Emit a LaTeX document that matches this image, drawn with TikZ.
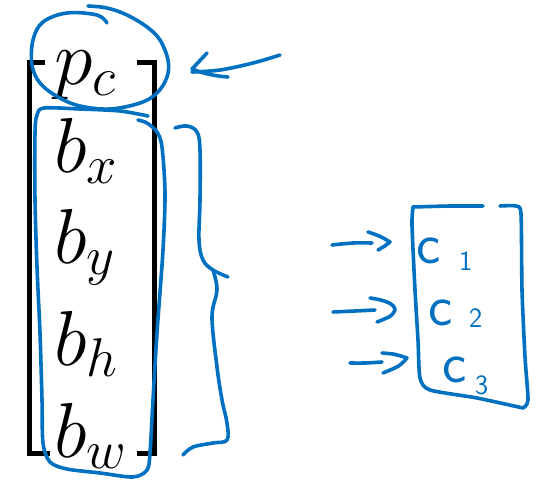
\RequirePackage{fix-cm}
\documentclass[tikz,border=0pt]{standalone}
\definecolor{inkblue}{HTML}{0070C0}
\begin{document}
\begin{tikzpicture}[x=1pt, y=-1pt,
  ink/.style={draw=inkblue, line width=3.6pt, line cap=round, line join=round},
  bracket/.style={draw=black, line width=5pt, line cap=butt, line join=miter},
  entry/.style={font=\fontsize{78}{84}\selectfont, inner sep=0pt, anchor=base west},
  clabel/.style={text=inkblue, font=\sffamily\fontsize{58}{58}\selectfont, inner sep=0pt, anchor=base west},
  cindex/.style={text=inkblue, font=\sffamily\fontsize{28}{28}\selectfont, inner sep=0pt, anchor=base west}]
\useasboundingbox (0,0) rectangle (536,482);

% vector entries
\node[entry] (pc) at (54,84)  {$p_c$};
\node[entry] (bx) at (54,172) {$b_x$};
\node[entry] (by) at (54,263) {$b_y$};
\node[entry] (bh) at (54,365) {$b_h$};
\node[entry] (bw) at (54,457) {$b_w$};

% square brackets
\draw[bracket] (45,62.5) -- (29.5,62.5) -- (29.5,453.5) -- (50,453.5);
\draw[bracket] (137,62.5) -- (154.5,62.5) -- (154.5,453.5) -- (137,453.5);

% loop round p_c
\draw[ink] plot[smooth, tension=0.6] coordinates {(107,23) (97,15) (67,13) (43,22) (33,40) (32,65) (40,83) (58,97) (80,106) (110,109) (140,103) (157,93) (167,77) (168,60) (160,40) (147,27) (127,15) (107,8) (88,6)};

% arrow pointing at p_c
\draw[ink] plot[smooth, tension=0.6] coordinates {(280,55) (253,63) (220,70) (192,72)};
\draw[ink] (207,53) -- (192,69) .. controls (205,74) and (215,76) .. (228,77);

% box round the b entries
\draw[ink] plot[smooth, tension=0.5] coordinates {(148,116) (120,111) (80,109) (44,108) (37,115) (35,133) (35,200) (37,267) (40,333) (42,400) (43,443) (50,462) (67,469) (100,473) (133,477) (147,470) (150,453) (153,400) (157,333) (163,250) (165,193) (162,147) (157,132) (147,123) (138,120)};

% curly brace
\draw[ink] plot[smooth, tension=0.6] coordinates {(175,128) (187,126) (197,132) (200,150) (200,200) (199,240) (203,260) (213,270) (228,277)};
\draw[ink] plot[smooth, tension=0.6] coordinates {(213,270) (217,290) (212,317) (217,367) (222,400) (227,423) (227,440) (213,443) (193,447) (183,455)};

% class box
\draw[ink] plot[smooth, tension=0.4] coordinates {(413,207) (450,206) (483,206)};
\draw[ink] plot[smooth, tension=0.4] coordinates {(500,206) (516,206) (521,214) (522,290) (525,357) (528,400) (523,408)};
\draw[ink] plot[smooth, tension=0.4] coordinates {(413,207) (412,225) (415,290) (418,340) (420,378) (430,390) (477,398) (523,408)};

% class labels
\node[clabel] (c1) at (416,263) {c};
\node[cindex] (i1) at (459,270) {1};
\node[clabel] (c2) at (428,325) {c};
\node[cindex] (i2) at (469,327) {2};
\node[clabel] (c3) at (442,382) {c};
\node[cindex] (i3) at (475,394) {3};

% arrows into the class box
\draw[ink] plot[smooth, tension=0.5] coordinates {(332,245) (353,243) (372,243)};
\draw[ink] (368,232) .. controls (380,236) .. (390,242) .. controls (385,246) .. (378,250);
\draw[ink] plot[smooth, tension=0.5] coordinates {(333,312) (355,311) (375,310)};
\draw[ink] (370,298) .. controls (385,300) and (395,304) .. (395,310) .. controls (392,316) .. (377,322);
\draw[ink] plot[smooth, tension=0.5] coordinates {(350,363) (365,363) (382,362)};
\draw[ink] (382,353) .. controls (395,354) .. (407,358) .. controls (400,366) .. (383,373);
\end{tikzpicture}
\end{document}
